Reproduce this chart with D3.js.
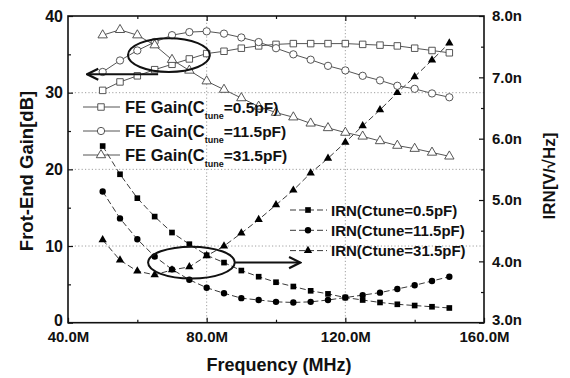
<!DOCTYPE html>
<html lang="en">
<head>
<meta charset="UTF-8">
<title>FE Gain and IRN vs Frequency</title>
<script src="https://cdn.jsdelivr.net/npm/d3@7"></script>
<style>
body { margin: 0; background: #fff; font-family: 'Liberation Sans', Arial, sans-serif; }
svg text { font-family: 'Liberation Sans', Arial, sans-serif; font-weight: bold; fill: #111; }
</style>
</head>
<body>
<svg id="chart" width="570" height="378"></svg>
<script>
// frequency points (MHz)
const freq = [50, 55, 60, 65, 70, 75, 80, 85, 90, 95, 100, 105, 110, 115, 120, 125, 130, 135, 140, 145, 150];

// Front-end gain [dB] (left axis)
const gain05  = [30.3, 31.4, 32.2, 33.0, 33.7, 34.4, 35.1, 35.4, 35.8, 36.1, 36.3, 36.4, 36.4, 36.4, 36.4, 36.3, 36.2, 36.1, 35.8, 35.5, 35.2];
const gain115 = [32.7, 34.2, 35.5, 36.6, 37.5, 37.9, 38.0, 37.7, 37.2, 36.6, 35.8, 35.0, 34.3, 33.5, 32.9, 32.2, 31.6, 30.9, 30.5, 29.9, 29.4];
const gain315 = [37.5, 38.2, 37.5, 36.2, 34.3, 32.9, 31.5, 30.4, 29.3, 28.2, 27.4, 26.8, 26.0, 25.4, 24.8, 24.3, 23.7, 23.1, 22.7, 22.2, 21.7];

// input referred noise [nV/sqrt(Hz)] (right axis)
const irn05  = [5.88, 5.42, 5.03, 4.73, 4.47, 4.28, 4.10, 3.98, 3.85, 3.75, 3.66, 3.59, 3.52, 3.47, 3.41, 3.37, 3.33, 3.30, 3.28, 3.26, 3.24];
const irn115 = [5.14, 4.70, 4.36, 4.08, 3.87, 3.70, 3.57, 3.48, 3.40, 3.37, 3.34, 3.33, 3.34, 3.37, 3.41, 3.45, 3.49, 3.55, 3.61, 3.68, 3.75];
const irn315 = [4.35, 4.02, 3.84, 3.78, 3.86, 3.91, 4.09, 4.25, 4.46, 4.68, 4.92, 5.16, 5.44, 5.68, 5.94, 6.21, 6.47, 6.75, 7.01, 7.28, 7.56];

const xTicks = [40, 80, 120, 160];
const xTickLabels = ["40.0M", "80.0M", "120.0M", "160.0M"];
const leftTicks = [0, 10, 20, 30, 40];
const rightTicks = [3, 4, 5, 6, 7, 8];
const rightTickLabels = ["3.0n", "4.0n", "5.0n", "6.0n", "7.0n", "8.0n"];

const svg = d3.select("#chart");
const pL = 68, pR = 484, pT = 16, pB = 322.7;

const x = d3.scaleLinear().domain([40, 160]).range([pL, pR]);
const yL = d3.scaleLinear().domain([0, 40]).range([pB, pT]);
const yR = d3.scaleLinear().domain([3, 8]).range([pB, pT]);

// dotted grid
const grid = svg.append("g").attr("stroke", "#888").attr("stroke-width", 0.8).attr("stroke-dasharray", "1.2,2.2");
[80, 120].forEach(v => grid.append("line").attr("x1", x(v)).attr("x2", x(v)).attr("y1", pT).attr("y2", pB));
[10, 20, 30].forEach(v => grid.append("line").attr("x1", pL).attr("x2", pR).attr("y1", yL(v)).attr("y2", yL(v)));

// axes (ticks point inward)
const axisStyle = g => {
  g.select(".domain").remove();
  g.selectAll("line").attr("stroke", "#111").attr("stroke-width", 1.2);
  g.selectAll("text").attr("font-size", 15);
};

svg.append("g").attr("transform", `translate(0,${pB})`)
  .call(d3.axisBottom(x).tickValues(xTicks).tickSize(-5).tickPadding(9).tickFormat((d, i) => xTickLabels[i]))
  .call(axisStyle);
svg.append("g").attr("transform", `translate(0,${pB})`)
  .call(d3.axisBottom(x).tickValues([60, 100, 140]).tickSize(-3).tickFormat(""))
  .call(axisStyle);
svg.append("g").attr("transform", `translate(0,${pT})`)
  .call(d3.axisTop(x).tickValues([80, 120]).tickSize(-5).tickFormat(""))
  .call(axisStyle);
svg.append("g").attr("transform", `translate(0,${pT})`)
  .call(d3.axisTop(x).tickValues([60, 100, 140]).tickSize(-3).tickFormat(""))
  .call(axisStyle);

svg.append("g").attr("transform", `translate(${pL},0)`)
  .call(d3.axisLeft(yL).tickValues(leftTicks).tickSize(-5).tickPadding(5))
  .call(axisStyle)
  .call(g => g.selectAll("text").attr("font-size", 16).attr("dy", d => d === 0 ? "0.15em" : "0.32em"));
svg.append("g").attr("transform", `translate(${pL},0)`)
  .call(d3.axisLeft(yL).tickValues([5, 15, 25, 35]).tickSize(-3).tickFormat(""))
  .call(axisStyle);

svg.append("g").attr("transform", `translate(${pR},0)`)
  .call(d3.axisRight(yR).tickValues(rightTicks).tickSize(-5).tickPadding(8).tickFormat((d, i) => rightTickLabels[i]))
  .call(axisStyle)
  .call(g => g.selectAll("text").attr("dy", d => d === 3 ? "0.15em" : "0.32em"));
svg.append("g").attr("transform", `translate(${pR},0)`)
  .call(d3.axisRight(yR).tickValues([3.5, 4.5, 5.5, 6.5, 7.5]).tickSize(-3).tickFormat(""))
  .call(axisStyle);

// frame
svg.append("rect").attr("x", pL).attr("y", pT).attr("width", pR - pL).attr("height", pB - pT)
  .attr("fill", "none").attr("stroke", "#111").attr("stroke-width", 1.6);

// series
const feSeries = [
  { name: "0.5pF", vals: gain05, sym: d3.symbolSquare, size: 42 },
  { name: "11.5pF", vals: gain115, sym: d3.symbolCircle, size: 42 },
  { name: "31.5pF", vals: gain315, sym: d3.symbolTriangle, size: 38 }
];
const irnSeries = [
  { name: "0.5pF", vals: irn05, sym: d3.symbolSquare, size: 32 },
  { name: "11.5pF", vals: irn115, sym: d3.symbolCircle, size: 32 },
  { name: "31.5pF", vals: irn315, sym: d3.symbolTriangle, size: 30 }
];

irnSeries.forEach(s => {
  const line = d3.line().x((d, i) => x(freq[i])).y(d => yR(d));
  svg.append("path").datum(s.vals).attr("d", line)
    .attr("fill", "none").attr("stroke", "#222").attr("stroke-width", 0.9).attr("stroke-dasharray", "6,3");
  svg.append("g").selectAll("path").data(s.vals).join("path")
    .attr("transform", (d, i) => `translate(${x(freq[i])},${yR(d)})`)
    .attr("d", d3.symbol(s.sym, s.size)).attr("fill", "#000");
});

feSeries.forEach(s => {
  const line = d3.line().x((d, i) => x(freq[i])).y(d => yL(d));
  svg.append("path").datum(s.vals).attr("d", line)
    .attr("fill", "none").attr("stroke", "#555").attr("stroke-width", 1);
  svg.append("g").selectAll("path").data(s.vals).join("path")
    .attr("transform", (d, i) => `translate(${x(freq[i])},${yL(d)})`)
    .attr("d", d3.symbol(s.sym, s.size)).attr("fill", "#fff").attr("stroke", "#444").attr("stroke-width", 0.9);
});

// annotations: ellipses and arrows
const defs = svg.append("defs");
defs.append("marker").attr("id", "arr").attr("viewBox", "0 0 10 10").attr("refX", 9).attr("refY", 5)
  .attr("markerWidth", 7).attr("markerHeight", 7).attr("orient", "auto-start-reverse")
  .append("path").attr("d", "M1,1 L9,5 L1,9").attr("fill", "none").attr("stroke", "#111").attr("stroke-width", 1.6);

const ann = svg.append("g").attr("fill", "none").attr("stroke", "#111").attr("stroke-width", 2);
ann.append("ellipse").attr("cx", x(69.1)).attr("cy", yL(34.9))
  .attr("rx", x(69.1 + 11.8) - x(69.1)).attr("ry", yL(34.9) - yL(37.1));
ann.append("line").attr("x1", x(66)).attr("y1", yL(32.4)).attr("x2", x(45.5)).attr("y2", yL(32.4))
  .attr("marker-end", "url(#arr)");
ann.append("ellipse").attr("cx", x(75.6)).attr("cy", yR(3.98))
  .attr("rx", x(75.6 + 12.5) - x(75.6)).attr("ry", yR(3.98) - yR(4.24));
ann.append("line").attr("x1", x(88.2)).attr("y1", yR(3.98)).attr("x2", x(107)).attr("y2", yR(3.98))
  .attr("marker-end", "url(#arr)");

// FE legend
const feLeg = svg.append("g");
feSeries.forEach((s, i) => {
  const cy = 107 + i * 24;
  feLeg.append("line").attr("x1", 83).attr("x2", 120).attr("y1", cy).attr("y2", cy)
    .attr("stroke", "#555").attr("stroke-width", 1);
  feLeg.append("path").attr("transform", `translate(101,${cy})`).attr("d", d3.symbol(s.sym, s.size))
    .attr("fill", "#fff").attr("stroke", "#444").attr("stroke-width", 0.9);
  const t = feLeg.append("text").attr("x", 125).attr("y", cy + 6).attr("font-size", 16.5);
  t.append("tspan").text("FE Gain(C");
  t.append("tspan").attr("font-size", 9).attr("dy", 6).text("tune");
  t.append("tspan").attr("dy", -6).attr("font-size", 15.5).text("=" + s.name + ")");
});

// IRN legend
const irnLeg = svg.append("g");
irnSeries.forEach((s, i) => {
  const cy = 210 + i * 20.3;
  irnLeg.append("line").attr("x1", 290).attr("x2", 327).attr("y1", cy).attr("y2", cy)
    .attr("stroke", "#222").attr("stroke-width", 0.9).attr("stroke-dasharray", "6,3");
  irnLeg.append("path").attr("transform", `translate(308,${cy})`).attr("d", d3.symbol(s.sym, s.size)).attr("fill", "#000");
  irnLeg.append("text").attr("x", 331).attr("y", cy + 5.5).attr("font-size", 15).text("IRN(Ctune=" + s.name + ")");
});

// axis titles
svg.append("text").attr("transform", `translate(279,371)`).attr("text-anchor", "middle")
  .attr("font-size", 18).text("Frequency (MHz)");
svg.append("text").attr("transform", `translate(33,171) rotate(-90)`).attr("text-anchor", "middle")
  .attr("font-size", 18.5).text("Frot-End Gain[dB]");
svg.append("text").attr("transform", `translate(555,176) rotate(-90)`).attr("text-anchor", "middle")
  .attr("font-size", 17).text("IRN[V/\u221AHz]");
</script>
</body>
</html>
